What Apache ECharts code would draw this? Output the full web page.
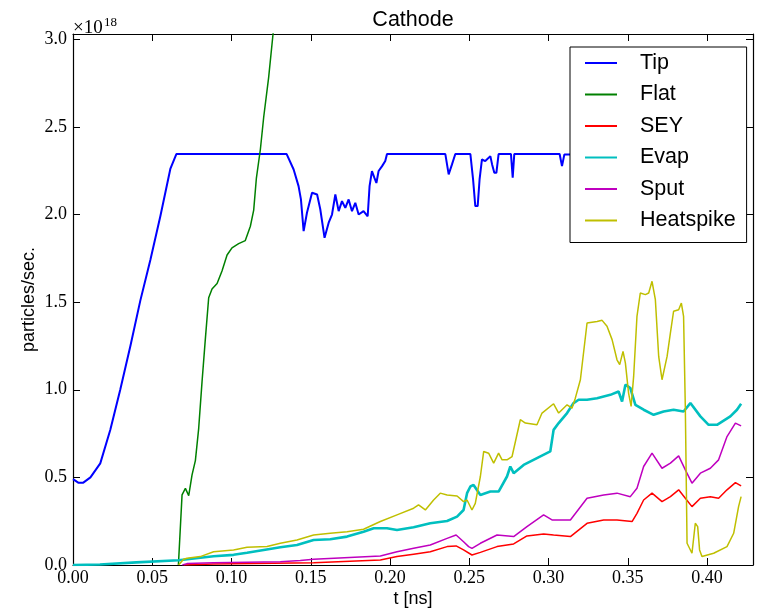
<!DOCTYPE html>
<html>
<head>
<meta charset="utf-8">
<script src="https://cdn.jsdelivr.net/npm/echarts@6/dist/echarts.min.js"></script>
<style>
  html, body { margin: 0; padding: 0; background: #fff; }
  #chart { width: 757px; height: 608px; }
</style>
</head>
<body>
<div id="chart"></div>
<script>
// Emission rates at the cathode, in units of 1e18 particles/sec, against t [ns].
const seriesNames = ['Tip', 'Flat', 'SEY', 'Evap', 'Sput', 'Heatspike'];
const seriesColors = ['#0000ff', '#008000', '#ff0000', '#00bfbf', '#bf00bf', '#bfbf00'];

const tip = [
  [0.000, 0.49], [0.0033, 0.47], [0.0065, 0.47], [0.011, 0.50], [0.0172, 0.58], [0.0235, 0.77],
  [0.0298, 1.00], [0.0362, 1.25], [0.0425, 1.51], [0.0488, 1.74], [0.0551, 1.99], [0.0614, 2.26],
  [0.0652, 2.345], [0.1348, 2.345], [0.1392, 2.257], [0.1423, 2.162], [0.1438, 2.086], [0.1455, 1.905],
  [0.1476, 2.01], [0.1508, 2.124], [0.154, 2.114], [0.156, 2.03], [0.1587, 1.867], [0.1613, 1.953],
  [0.1634, 2.0], [0.1655, 2.114], [0.1676, 2.019], [0.1697, 2.076], [0.1718, 2.038], [0.1739, 2.086],
  [0.176, 2.019], [0.1781, 2.067], [0.1802, 2.0], [0.1833, 2.019], [0.1859, 1.99], [0.1871, 2.162],
  [0.1886, 2.248], [0.1901, 2.21], [0.1914, 2.18], [0.1928, 2.248], [0.195, 2.276], [0.197, 2.305],
  [0.1981, 2.345], [0.2349, 2.345], [0.237, 2.229], [0.2391, 2.286], [0.2412, 2.345], [0.2507, 2.345],
  [0.2524, 2.2], [0.2538, 2.048], [0.2553, 2.048], [0.2565, 2.2], [0.258, 2.314], [0.2601, 2.305],
  [0.2633, 2.333], [0.2644, 2.286], [0.2658, 2.238], [0.2671, 2.238], [0.2685, 2.345], [0.2763, 2.345],
  [0.2774, 2.21], [0.2784, 2.345], [0.307, 2.345], [0.3085, 2.276], [0.31, 2.343], [0.4215, 2.345]
];

const flat = [
  [0.0665, 0.0], [0.0688, 0.40], [0.0709, 0.437], [0.0730, 0.396], [0.0751, 0.514], [0.0772, 0.596],
  [0.0793, 0.78], [0.0814, 1.045], [0.0835, 1.29], [0.0856, 1.525], [0.0877, 1.575], [0.0909, 1.606],
  [0.0940, 1.678], [0.0972, 1.769], [0.1003, 1.81], [0.1045, 1.834], [0.1087, 1.851], [0.1119, 1.933],
  [0.1140, 2.025], [0.1157, 2.208], [0.1182, 2.371], [0.1203, 2.555], [0.1234, 2.78], [0.1262, 3.03],
  [0.1290, 3.28]
];

const sey = [
  [0.070, 0.0], [0.0887, 0.006], [0.1518, 0.013], [0.1939, 0.029], [0.2044, 0.048], [0.2149, 0.062],
  [0.2254, 0.076], [0.2360, 0.105], [0.2417, 0.109], [0.2464, 0.086], [0.2517, 0.057], [0.2570, 0.072],
  [0.2675, 0.105], [0.2780, 0.12], [0.2864, 0.166], [0.2969, 0.177], [0.3032, 0.171], [0.3138, 0.162],
  [0.3243, 0.238], [0.3348, 0.257], [0.3432, 0.257], [0.3527, 0.248], [0.3558, 0.295], [0.3600, 0.371],
  [0.3653, 0.41], [0.3716, 0.362], [0.3769, 0.39], [0.3821, 0.429], [0.3863, 0.381], [0.3905, 0.333],
  [0.3958, 0.381], [0.4021, 0.39], [0.4073, 0.381], [0.4126, 0.429], [0.4179, 0.47], [0.4215, 0.451]
];

const evap = [
  [0.000, 0.0], [0.017, 0.003], [0.040, 0.015], [0.0666, 0.027], [0.0887, 0.05], [0.1013, 0.058],
  [0.1098, 0.07], [0.1308, 0.101], [0.1413, 0.114], [0.1518, 0.143], [0.1623, 0.147], [0.1729, 0.162],
  [0.1833, 0.19], [0.1897, 0.21], [0.1981, 0.21], [0.2044, 0.2], [0.2149, 0.215], [0.2254, 0.238],
  [0.2360, 0.251], [0.2423, 0.276], [0.2464, 0.314], [0.2486, 0.41], [0.2507, 0.448], [0.2527, 0.457],
  [0.2538, 0.448], [0.2570, 0.40], [0.2633, 0.419], [0.2685, 0.419], [0.2738, 0.505], [0.2759, 0.562],
  [0.2780, 0.524], [0.2843, 0.571], [0.2927, 0.61], [0.3011, 0.648], [0.3032, 0.771], [0.3064, 0.81],
  [0.3117, 0.867], [0.3158, 0.924], [0.3190, 0.943], [0.3243, 0.943], [0.3306, 0.952], [0.3390, 0.971],
  [0.3442, 0.99], [0.3464, 0.933], [0.3485, 1.029], [0.3516, 1.01], [0.3548, 0.914], [0.3600, 0.886],
  [0.3663, 0.857], [0.3726, 0.876], [0.3789, 0.886], [0.3852, 0.876], [0.3895, 0.924], [0.3958, 0.848],
  [0.4010, 0.80], [0.4063, 0.80], [0.4147, 0.848], [0.4189, 0.886], [0.4215, 0.92]
];

const sput = [
  [0.069, 0.0], [0.0719, 0.008], [0.0887, 0.013], [0.1308, 0.019], [0.1434, 0.025], [0.1518, 0.033],
  [0.1939, 0.051], [0.2044, 0.076], [0.2149, 0.095], [0.2254, 0.114], [0.2360, 0.152], [0.2417, 0.171],
  [0.2464, 0.133], [0.2496, 0.105], [0.2517, 0.095], [0.2570, 0.124], [0.2675, 0.171], [0.2780, 0.162],
  [0.2864, 0.219], [0.2969, 0.286], [0.3022, 0.257], [0.3138, 0.257], [0.3243, 0.381], [0.3348, 0.40],
  [0.3432, 0.41], [0.3516, 0.39], [0.3558, 0.438], [0.3600, 0.562], [0.3653, 0.638], [0.3716, 0.552],
  [0.3769, 0.581], [0.3821, 0.623], [0.3863, 0.543], [0.3905, 0.467], [0.3958, 0.524], [0.4021, 0.552],
  [0.4073, 0.60], [0.4126, 0.733], [0.4179, 0.81], [0.4215, 0.794]
];

const heatspike = [
  [0.0666, 0.0], [0.0698, 0.033], [0.0719, 0.038], [0.0803, 0.048], [0.0887, 0.076], [0.1013, 0.086],
  [0.1098, 0.101], [0.1224, 0.105], [0.1308, 0.124], [0.1413, 0.143], [0.1518, 0.171], [0.1623, 0.181],
  [0.1729, 0.19], [0.1833, 0.204], [0.1939, 0.248], [0.2044, 0.286], [0.2149, 0.324], [0.2180, 0.343],
  [0.2223, 0.314], [0.2275, 0.371], [0.2317, 0.41], [0.2360, 0.40], [0.2423, 0.394], [0.2464, 0.362],
  [0.2486, 0.371], [0.2517, 0.314], [0.2538, 0.352], [0.2570, 0.505], [0.2591, 0.648], [0.2622, 0.638],
  [0.2654, 0.581], [0.2685, 0.638], [0.2707, 0.6], [0.2738, 0.6], [0.2770, 0.619], [0.2822, 0.829],
  [0.2854, 0.81], [0.2927, 0.8], [0.2959, 0.867], [0.3032, 0.92], [0.3064, 0.867], [0.3085, 0.886],
  [0.3117, 0.914], [0.3148, 0.895], [0.3169, 0.952], [0.3201, 1.057], [0.3243, 1.381], [0.3306, 1.39],
  [0.3338, 1.396], [0.3369, 1.362], [0.3401, 1.286], [0.3432, 1.171], [0.3449, 1.143], [0.3470, 1.219],
  [0.3485, 1.152], [0.3505, 0.981], [0.3521, 0.905], [0.3537, 1.076], [0.3558, 1.419], [0.3579, 1.552],
  [0.3611, 1.543], [0.3632, 1.552], [0.3653, 1.619], [0.3674, 1.514], [0.3695, 1.19], [0.3716, 1.057],
  [0.3748, 1.19], [0.3769, 1.324], [0.3789, 1.448], [0.3821, 1.457], [0.3838, 1.495], [0.3852, 1.419],
  [0.3863, 0.9], [0.3874, 0.124], [0.3905, 0.067], [0.3926, 0.238], [0.3941, 0.219], [0.3953, 0.086],
  [0.3968, 0.048], [0.4042, 0.067], [0.4126, 0.105], [0.4168, 0.181], [0.4199, 0.333], [0.4215, 0.39]
];

const seriesData = [tip, flat, sey, evap, sput, heatspike];
const lineWidths = [2, 1.5, 1.5, 2.6, 1.5, 1.5];

const xRange = [0, 0.429];
const yRange = [0, 3.03];
const xStep = 0.05;
const yStep = 0.5;

const serif = '"Liberation Serif", "DejaVu Serif", serif';
const sans = '"Liberation Sans", Arial, sans-serif';

function onStep(v, step) {
  return Math.abs(v / step - Math.round(v / step)) < 1e-6;
}

const tickStyle = { show: true, inside: true, length: 7, lineStyle: { color: '#000', width: 1 } };
const spine = { show: true, onZero: false, lineStyle: { color: '#000', width: 1.2 } };

const chart = echarts.init(document.getElementById('chart'), null, { renderer: 'canvas' });

chart.setOption({
  animation: false,
  backgroundColor: '#fff',
  grid: { left: 73, right: 4, top: 34, bottom: 43, containLabel: false, outerBoundsMode: 'none' },
  xAxis: [
    {
      type: 'value', min: xRange[0], max: xRange[1], interval: xStep, position: 'bottom',
      axisLine: spine, axisTick: tickStyle, splitLine: { show: false },
      axisLabel: {
        margin: 4, color: '#000', fontFamily: serif, fontSize: 18,
        formatter: v => onStep(v, xStep) ? v.toFixed(2) : ''
      },
      name: 't [ns]', nameLocation: 'middle', nameGap: 25, nameMoveOverlap: false,
      nameTextStyle: { color: '#000', fontFamily: sans, fontSize: 18 }
    },
    {
      type: 'value', min: xRange[0], max: xRange[1], interval: xStep, position: 'top',
      axisLine: spine, axisTick: tickStyle, axisLabel: { show: false }, splitLine: { show: false }
    }
  ],
  yAxis: [
    {
      type: 'value', min: yRange[0], max: yRange[1], interval: yStep, position: 'left',
      axisLine: spine, axisTick: tickStyle, splitLine: { show: false },
      axisLabel: {
        margin: 6, color: '#000', fontFamily: serif, fontSize: 18,
        formatter: v => onStep(v, yStep) ? v.toFixed(1) : ''
      },
      name: 'particles/sec.', nameLocation: 'middle', nameGap: 35, nameMoveOverlap: false,
      nameTextStyle: { color: '#000', fontFamily: sans, fontSize: 18 }
    },
    {
      type: 'value', min: yRange[0], max: yRange[1], interval: yStep, position: 'right',
      axisLine: spine, axisTick: tickStyle, axisLabel: { show: false }, splitLine: { show: false }
    }
  ],
  legend: {
    show: true,
    orient: 'vertical',
    left: 570, top: 47,
    padding: [4, 11, 10, 15],
    icon: 'rect',
    itemWidth: 32, itemHeight: 2, itemGap: 7.5,
    backgroundColor: '#fff', borderColor: '#000', borderWidth: 1, borderRadius: 0,
    selectedMode: false,
    data: seriesNames,
    textStyle: {
      color: '#000', fontFamily: sans, fontSize: 21.5, lineHeight: 24,
      padding: [0, 0, 0, 18]
    }
  },
  graphic: [
    {
      type: 'text', x: 413, y: 9,
      style: { text: 'Cathode', align: 'center', verticalAlign: 'top', fill: '#000', font: '21.5px ' + sans }
    },
    {
      type: 'text', x: 73, y: 19,
      style: { text: '×10', align: 'left', verticalAlign: 'top', fill: '#000', font: '19px ' + serif }
    },
    {
      type: 'text', x: 104, y: 16,
      style: { text: '18', align: 'left', verticalAlign: 'top', fill: '#000', font: '13px ' + serif }
    }
  ],
  series: seriesNames.map((name, i) => ({
    name: name,
    type: 'line',
    xAxisIndex: 0,
    yAxisIndex: 0,
    data: seriesData[i],
    showSymbol: false,
    symbol: 'none',
    clip: true,
    color: seriesColors[i],
    lineStyle: { color: seriesColors[i], width: lineWidths[i] },
    emphasis: { disabled: true }
  }))
});
</script>
</body>
</html>
